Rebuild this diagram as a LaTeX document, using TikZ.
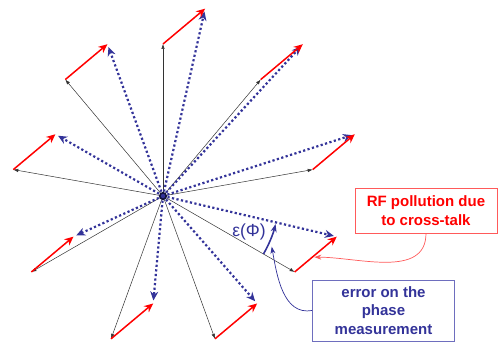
\documentclass[tikz,border=0pt]{standalone}
\usepackage{fontspec}
\setmainfont{Liberation Sans}
\usetikzlibrary{arrows.meta,calc}
\definecolor{phaseblue}{RGB}{51,51,153}
\definecolor{boxred}{RGB}{255,90,90}
\definecolor{boxblue}{RGB}{110,110,190}
\tikzset{
    phasor/.style={black!80, line width=0.5pt, -{Latex[length=5pt,width=3.5pt]}},
    pollution/.style={red, line width=1.5pt, -{Stealth[length=9pt,width=8pt]}},
    measured/.style={phaseblue, line width=2.2pt, dash pattern=on 2.2pt off 2.4pt,
        shorten >=3pt, -{Stealth[length=9pt,width=8pt]}},
    epsarc/.style={phaseblue, line width=1.6pt, -{Stealth[length=8pt,width=6pt]}},
    tag/.style={draw, line width=0.7pt, align=center, minimum width=142pt,
        font=\bfseries\fontsize{15}{19}\selectfont},
    callout/.style={line width=0.7pt, -{Stealth[length=7pt,width=5pt]}}
}
\begin{document}
\begin{tikzpicture}[x=1pt, y=1pt]
    \useasboundingbox (-163,-146) rectangle (335,196);
    \coordinate (o) at (0,0);
    % Phasors, cross-talk and measured sum
    \foreach \k in {0,...,8}{
        \coordinate (p\k) at ({10+40*\k}:152);
        \coordinate (q\k) at ($(p\k)+(40:55)$);
        \draw[phasor] (o) -- (p\k);
        \draw[measured] (o) -- (q\k);
        \draw[pollution] (p\k) -- (q\k);
    }
    % Origin
    \draw[phaseblue!40!black, line width=1.6pt, fill=phaseblue] (o) circle (3.2);
    % Phase error
    \draw[epsarc] (-30:116) arc[start angle=-30, end angle=-14, radius=116pt];
    \node[phaseblue, font=\fontsize{17.5}{20}\selectfont] (eps) at (86,-36) {ε(Φ)};
    % Labels
    \node[tag, draw=boxred, text=red, minimum height=45pt] (noise) at (263,-14.5)
        {RF pollution due\\to cross-talk};
    \node[tag, draw=boxblue, text=phaseblue, minimum height=61pt,
        font=\bfseries\fontsize{15}{18.5}\selectfont] (error) at (220.5,-114.5)
        {error on the\\phase\\measurement};
    \coordinate (hit) at ($(p8)!0.42!(q8)$);
    \coordinate (errtip) at (-25:120);
    \draw[callout, boxred, shorten >=2pt] (noise.south) to[out=-90, in=0] (hit);
    \draw[callout, phaseblue] (error.west) to[out=190, in=-80] (errtip);
\end{tikzpicture}
\end{document}
